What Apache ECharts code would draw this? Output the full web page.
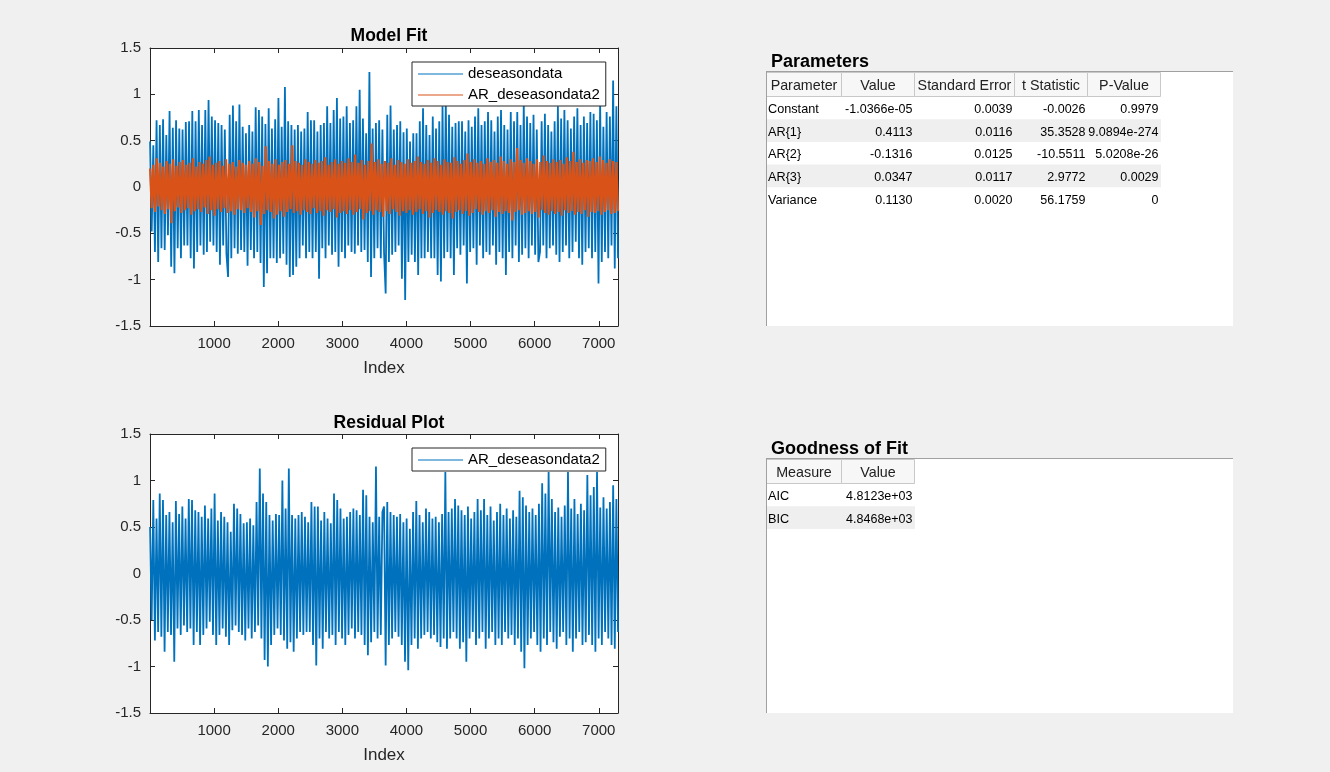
<!DOCTYPE html>
<html>
<head>
<meta charset="utf-8">
<script src="https://cdn.jsdelivr.net/npm/echarts@6/dist/echarts.min.js"></script>
<style>
html,body{margin:0;padding:0;background:#f0f0f0;}
#c{width:1330px;height:772px;}
</style>
</head>
<body>
<div id="c"></div>
<script>
// ---------------- data ----------------
const INDEX_MIN = 1;
const INDEX_MAX = 7300;
const xTicks = [1000, 2000, 3000, 4000, 5000, 6000, 7000];

// deseasondata: local upper extremes / lower extremes along the index
const deseasonUpper = [
0.49,0.45,0.72,0.67,0.73,0.56,0.82,0.64,0.72,0.63,0.62,0.70,0.71,0.82,0.71,0.83,0.67,0.83,0.94,0.76,
0.72,0.69,0.67,0.62,0.78,0.88,0.71,0.89,0.65,0.58,0.67,0.60,0.86,0.83,0.76,0.68,0.85,0.63,0.73,0.96,
0.65,1.08,0.71,0.67,0.62,0.67,
0.60,0.63,0.81,0.72,0.72,0.60,0.67,0.69,0.87,0.69,0.83,0.96,0.74,0.76,0.87,0.69,0.72,0.87,1.05,0.74,
0.58,1.24,0.63,0.69,0.72,0.62,0.78,0.88,0.62,0.67,0.71,0.59,0.63,0.49,0.58,0.58,0.71,0.85,0.67,0.56,
0.76,0.63,0.71,0.87,0.94,0.78,0.65,0.69,0.71,
0.71,0.60,0.72,0.65,0.76,0.85,0.67,0.71,0.81,0.72,0.60,0.76,0.83,0.67,0.62,0.81,0.71,0.81,0.67,0.90,
0.76,0.69,0.78,0.62,0.71,0.79,0.67,0.60,0.71,0.87,0.74,0.83,0.72,0.63,0.76,0.85,0.67,0.76,0.69,0.81,
0.79,0.72,0.92,0.65,0.81,0.76,1.15,0.87
];
const deseasonLower = [
-0.48,-0.70,-0.81,-0.66,-0.68,-0.52,-0.86,-0.93,-0.66,-0.77,-0.63,-0.63,-0.77,-0.88,-0.70,-0.63,-0.73,-0.70,-0.59,-0.63,
-0.70,-0.84,-0.63,-0.72,-0.97,-0.77,-0.66,-0.72,-0.68,-0.70,-0.85,-0.68,-0.77,-0.70,-0.82,-1.08,-0.93,-0.77,-0.77,-0.82,
-0.77,-0.72,-0.84,-0.97,-0.95,-0.86,-0.77,-0.63,-0.77,-0.70,
-0.77,-0.70,-0.99,-0.66,-0.77,-0.63,-0.73,-0.70,-0.86,-0.70,-0.77,-0.63,-0.70,-0.72,-0.63,-0.70,-0.68,-0.81,-0.97,-0.77,
-0.66,-0.77,-0.70,-1.15,-0.81,-0.73,-0.70,-0.63,-0.99,-1.22,-0.81,-0.73,-0.81,-0.95,-0.77,-0.77,-0.70,-0.77,-0.77,-0.95,
-1.02,-0.77,-0.70,-0.77,-0.95,-0.66,-0.73,-0.63,
-1.04,-0.70,-0.66,-0.84,-0.63,-0.77,-0.70,-0.73,-0.63,-0.84,-0.70,-0.77,-0.95,-0.70,-0.77,-0.63,-0.81,-0.73,-0.66,-0.77,
-0.63,-0.73,-0.81,-0.70,-0.63,-0.77,-0.66,-0.63,-0.73,-0.81,-0.70,-0.63,-0.77,-0.70,-0.59,-0.77,-0.84,-0.70,-0.66,-0.77,
-0.70,-1.04,-0.81,-0.70,-0.77,-0.63,-0.88,-0.77
];

// AR_deseasondata2 (fitted): upper / lower extremes
const fitUpper = [
0.20,0.24,0.31,0.26,0.22,0.28,0.25,0.30,0.23,0.27,0.29,0.24,0.26,0.31,0.22,0.27,0.25,0.29,0.33,0.24,
0.26,0.28,0.23,0.30,0.25,0.27,0.22,0.29,0.26,0.24,0.28,0.25,0.31,0.27,0.23,0.44,0.28,0.25,0.30,0.24,
0.27,0.29,0.25,0.45,0.28,0.26,0.24,0.30,0.27,0.25,0.29,0.26,0.28,0.32,0.24,0.27,0.30,0.25,0.28,0.26,
0.31,0.27,0.35,0.26,0.29,0.24,0.28,0.47,0.27,0.30,0.25,0.28,0.26,0.31,0.24,0.29,0.27,0.25,0.30,0.26,
0.28,0.33,0.27,0.25,0.29,0.26,0.31,0.28,0.24,0.30,0.27,0.26,0.32,0.28,0.25,0.29,0.36,0.27,0.30,0.26,
0.28,0.25,0.31,0.27,0.29,0.26,0.33,0.28,0.25,0.30,0.27,0.42,0.29,0.26,0.31,0.28,0.25,0.30,0.27,0.34,
0.28,0.26,0.30,0.27,0.29,0.25,0.32,0.28,0.38,0.27,0.30,0.26,0.29,0.28,0.31,0.27,0.33,0.29,0.26,0.30,
0.28,0.27
];
const fitLower = [
-0.23,-0.27,-0.21,-0.25,-0.29,-0.24,-0.39,-0.26,-0.22,-0.28,-0.25,-0.23,-0.30,-0.26,-0.24,-0.27,-0.22,-0.29,-0.25,-0.31,
-0.24,-0.27,-0.23,-0.28,-0.26,-0.30,-0.24,-0.25,-0.28,-0.23,-0.27,-0.33,-0.26,-0.41,-0.29,-0.25,-0.27,-0.34,-0.30,-0.26,
-0.32,-0.27,-0.24,-0.28,-0.26,-0.30,-0.25,-0.27,-0.29,-0.23,-0.28,-0.26,-0.31,-0.25,-0.27,-0.24,-0.33,-0.28,-0.26,-0.29,
-0.25,-0.30,-0.27,-0.24,-0.35,-0.28,-0.26,-0.30,-0.25,-0.27,-0.32,-0.26,-0.29,-0.24,-0.27,-0.31,-0.26,-0.28,-0.25,-0.30,
-0.27,-0.24,-0.29,-0.26,-0.33,-0.28,-0.25,-0.27,-0.30,-0.26,-0.28,-0.34,-0.27,-0.25,-0.29,-0.26,-0.31,-0.28,-0.24,-0.27,
-0.30,-0.26,-0.28,-0.25,-0.32,-0.27,-0.29,-0.26,-0.28,-0.36,-0.27,-0.25,-0.30,-0.28,-0.26,-0.29,-0.27,-0.33,-0.25,-0.28,
-0.30,-0.26,-0.29,-0.27,-0.31,-0.25,-0.28,-0.26,-0.30,-0.27,-0.29,-0.25,-0.32,-0.27,-0.28,-0.26,-0.30,-0.27,-0.25,-0.29,
-0.28,-0.26
];

// residuals: upper / lower extremes
const residUpper = [
0.50,0.79,0.59,0.86,0.79,0.63,0.66,0.55,0.78,0.64,0.72,0.59,0.80,0.79,0.68,0.66,0.61,0.73,0.59,0.70,
0.86,0.57,0.66,0.61,0.55,0.45,0.75,0.70,0.64,0.54,0.55,0.59,0.52,0.77,1.13,0.86,0.77,0.63,0.57,0.64,
0.63,1.00,0.70,1.13,0.63,0.59,0.63,0.66,
0.61,0.55,0.77,0.72,0.72,0.57,0.66,0.59,0.54,0.86,0.79,0.70,0.59,0.61,0.66,0.70,0.68,0.63,0.90,0.84,
0.61,0.55,1.15,0.61,0.66,0.72,0.77,0.66,0.63,0.61,0.64,0.55,0.59,0.48,0.66,0.78,0.63,0.55,0.70,0.66,
0.59,0.61,0.55,0.64,1.09,0.66,0.70,0.80,0.73,0.68,
0.63,0.72,0.59,0.66,0.80,0.68,0.80,0.63,0.72,0.57,0.66,0.75,0.63,0.70,0.59,0.68,0.61,0.89,0.82,0.73,
0.66,0.70,0.63,0.75,0.97,0.86,1.09,0.80,0.66,0.71,0.61,0.73,1.09,0.70,0.80,0.64,0.75,0.68,1.06,0.84,
0.93,1.09,0.71,0.82,0.70,0.77,0.95,0.80
];
const residLower = [
-0.50,-0.72,-0.63,-0.68,-0.84,-0.63,-0.66,-0.95,-0.59,-0.66,-0.56,-0.63,-0.59,-0.77,-0.63,-0.77,-0.66,-0.59,-0.52,-0.66,
-0.77,-0.66,-0.59,-0.68,-0.77,-0.61,-0.56,-0.63,-0.66,-0.72,-0.59,-0.70,-0.63,-0.56,-0.70,-0.93,-1.00,-0.77,-0.66,-0.59,
-0.66,-0.72,-0.81,-0.74,-0.84,-0.70,-0.63,-0.66,-0.63,
-0.63,-0.77,-0.99,-0.70,-0.81,-0.63,-0.70,-0.66,-0.77,-0.63,-0.70,-0.77,-0.66,-0.59,-0.70,-0.63,-0.66,-0.77,-0.88,-0.74,
-0.63,-0.70,-0.66,-0.99,-0.77,-0.70,-0.63,-0.68,-0.77,-0.95,-1.04,-0.77,-0.70,-0.81,-0.70,-0.66,-0.63,-0.70,-0.66,-0.74,
-0.79,-0.70,-0.81,-0.70,-0.63,-0.70,-0.81,-0.74,
-0.95,-0.70,-0.63,-0.77,-0.70,-0.63,-0.81,-0.70,-0.63,-0.77,-0.70,-0.77,-0.63,-0.70,-0.66,-0.77,-0.70,-0.84,-1.02,-0.77,
-0.70,-0.63,-0.77,-0.84,-0.70,-0.77,-0.63,-0.74,-0.81,-0.68,-0.63,-0.77,-0.70,-0.84,-0.70,-0.63,-0.77,-0.74,-0.66,-0.77,
-0.84,-0.70,-0.77,-0.63,-0.70,-0.77,-0.81,-0.63
];

// tables
const paramHeaders = ['Parameter', 'Value', 'Standard Error', 't Statistic', 'P-Value'];
const paramNames = ['Constant', 'AR{1}', 'AR{2}', 'AR{3}', 'Variance'];
const paramValue = ['-1.0366e-05', '0.4113', '-0.1316', '0.0347', '0.1130'];
const paramStdErr = ['0.0039', '0.0116', '0.0125', '0.0117', '0.0020'];
const paramTStat = ['-0.0026', '35.3528', '-10.5511', '2.9772', '56.1759'];
const paramPValue = ['0.9979', '9.0894e-274', '5.0208e-26', '0.0029', '0'];
const gofHeaders = ['Measure', 'Value'];
const gofNames = ['AIC', 'BIC'];
const gofValues = ['4.8123e+03', '4.8468e+03'];

// ---------------- build ----------------
// alternate the upper and lower extremes in reading order, evenly along the index
function band(up, lo) {
  const seq = [];
  let i = 0, j = 0;
  while (i < up.length || j < lo.length) {
    if (j >= lo.length || (i < up.length && (i + 0.25) / up.length <= (j + 0.75) / lo.length)) seq.push(up[i++]);
    else seq.push(lo[j++]);
  }
  const n = seq.length;
  return seq.map((v, k) => [INDEX_MIN + k * (INDEX_MAX - INDEX_MIN) / (n - 1), v]);
}

const FONT = '"Liberation Sans", Arial, Helvetica, sans-serif';
const AX = '#262626';
const BLUE = '#0072BD';
const ORANGE = '#D95319';

const G = [
  {left: 150, top: 48, width: 468, height: 278},
  {left: 150, top: 434, width: 468, height: 279}
];

function xAxes(gi) {
  return [
    {gridIndex: gi, type: 'value', min: 0, max: INDEX_MAX, interval: 1000, position: 'bottom',
     name: 'Index', nameLocation: 'middle', nameGap: 34,
     nameTextStyle: {fontFamily: FONT, fontSize: 17, color: AX},
     axisLine: {show: true, onZero: false, lineStyle: {color: AX, width: 1}},
     axisTick: {show: true, inside: true, length: 5, lineStyle: {color: AX}},
     axisLabel: {fontFamily: FONT, fontSize: 15, color: AX, margin: 10,
       formatter: v => (xTicks.indexOf(v) >= 0 ? String(v) : '')},
     splitLine: {show: false}},
    {gridIndex: gi, type: 'value', min: 0, max: INDEX_MAX, interval: 1000, position: 'top',
     axisLine: {show: true, onZero: false, lineStyle: {color: AX, width: 1}},
     axisTick: {show: true, inside: true, length: 5, lineStyle: {color: AX}},
     axisLabel: {show: false}, splitLine: {show: false}}
  ];
}
function yAxes(gi) {
  return [
    {gridIndex: gi, type: 'value', min: -1.5, max: 1.5, interval: 0.5, position: 'left',
     axisLine: {show: true, onZero: false, lineStyle: {color: AX, width: 1}},
     axisTick: {show: true, inside: true, length: 5, lineStyle: {color: AX}},
     axisLabel: {fontFamily: FONT, fontSize: 15, color: AX, margin: 9},
     splitLine: {show: false}},
    {gridIndex: gi, type: 'value', min: -1.5, max: 1.5, interval: 0.5, position: 'right',
     axisLine: {show: true, onZero: false, lineStyle: {color: AX, width: 1}},
     axisTick: {show: true, inside: true, length: 5, lineStyle: {color: AX}},
     axisLabel: {show: false}, splitLine: {show: false}}
  ];
}

// table graphics
const graphics = [];
function txt(x, y, s, align, opts) {
  graphics.push({type: 'text', x: x, y: y, silent: true, z: 10,
    style: Object.assign({text: s, textAlign: align, textVerticalAlign: 'middle',
      font: '12.7px ' + FONT, fill: '#000'}, opts || {})});
}
function rect(x, y, w, h, fill, stroke) {
  graphics.push({type: 'rect', silent: true, z: 5, shape: {x: x, y: y, width: w, height: h},
    style: {fill: fill, stroke: stroke || null, lineWidth: 1}});
}
function line(x1, y1, x2, y2, c) {
  graphics.push({type: 'line', silent: true, z: 8, shape: {x1: x1, y1: y1, x2: x2, y2: y2},
    style: {stroke: c, lineWidth: 1}});
}
function table(title, top, bottom, colEdges, headers, columns) {
  txt(771, top - 8.5, title, 'left', {font: 'bold 18px ' + FONT, fill: '#000'});
  rect(766, top, 467, bottom - top, '#ffffff');
  line(766, top + 0.5, 1233, top + 0.5, '#a0a0a0');
  line(766.5, top, 766.5, bottom, '#a0a0a0');
  const hTop = top + 1.5, hH = 24, rowH = 22.7;
  for (let c = 0; c < headers.length; c++) {
    const x0 = colEdges[c], x1 = colEdges[c + 1];
    rect(x0 + 0.5, hTop, x1 - x0, hH, '#f7f7f7', '#c8c8c8');
    txt((x0 + x1) / 2 + 0.5, hTop + hH / 2 + 1.5, headers[c], 'center', {font: '14.3px ' + FONT, fill: '#222'});
  }
  const nRows = columns[0].length;
  for (let r = 0; r < nRows; r++) {
    const y0 = hTop + hH + r * rowH;
    if (r % 2 === 1) rect(colEdges[0] + 1, y0, colEdges[colEdges.length - 1] - colEdges[0], rowH, '#efefef');
    for (let c = 0; c < columns.length; c++) {
      if (c === 0) txt(colEdges[0] + 2, y0 + rowH / 2 + 1.5, columns[c][r], 'left');
      else txt(colEdges[c + 1] - 1.5, y0 + rowH / 2 + 1.5, columns[c][r], 'right', {font: '12.5px ' + FONT});
    }
  }
}
table('Parameters', 71, 326, [766, 841, 914, 1014, 1087, 1160], paramHeaders,
      [paramNames, paramValue, paramStdErr, paramTStat, paramPValue]);
table('Goodness of Fit', 458, 713, [766, 841, 914], gofHeaders, [gofNames, gofValues]);

const legendBase = {
  orient: 'vertical', left: 412,
  backgroundColor: '#ffffff', borderColor: AX, borderWidth: 1, padding: [4, 6, 3, 6],
  icon: 'rect', itemWidth: 45, itemHeight: 1, itemGap: 5, selectedMode: false, z: 20,
  textStyle: {fontFamily: FONT, fontSize: 15, color: '#000', lineHeight: 16}
};

const chart = echarts.init(document.getElementById('c'), null, {renderer: 'canvas'});
chart.setOption({
  backgroundColor: '#f0f0f0',
  animation: false,
  title: [
    {text: 'Model Fit', left: 384, top: 22, textAlign: 'center',
     textStyle: {fontFamily: FONT, fontSize: 17.5, fontWeight: 'bold', color: '#000'}},
    {text: 'Residual Plot', left: 384, top: 409, textAlign: 'center',
     textStyle: {fontFamily: FONT, fontSize: 17.5, fontWeight: 'bold', color: '#000'}}
  ],
  grid: G.map(g => Object.assign({backgroundColor: '#ffffff', show: true, borderWidth: 0, containLabel: false}, g)),
  xAxis: xAxes(0).concat(xAxes(1)),
  yAxis: yAxes(0).concat(yAxes(1)),
  legend: [
    Object.assign({}, legendBase, {data: ['deseasondata', 'AR_deseasondata2'], top: 62}),
    Object.assign({}, legendBase, {data: ['AR_deseasondata2 '], top: 448, formatter: n => n.trim()})
  ],
  series: [
    {name: 'deseasondata', type: 'line', xAxisIndex: 0, yAxisIndex: 0, data: band(deseasonUpper, deseasonLower),
     showSymbol: false, symbol: 'none', sampling: null, color: BLUE, lineStyle: {color: BLUE, width: 1.8}, z: 2},
    {name: 'AR_deseasondata2', type: 'line', xAxisIndex: 0, yAxisIndex: 0, data: band(fitUpper, fitLower),
     showSymbol: false, symbol: 'none', sampling: null, color: ORANGE, lineStyle: {color: ORANGE, width: 2.2}, z: 3},
    {name: 'AR_deseasondata2 ', type: 'line', xAxisIndex: 2, yAxisIndex: 2, data: band(residUpper, residLower),
     showSymbol: false, symbol: 'none', sampling: null, color: BLUE, lineStyle: {color: BLUE, width: 1.8}, z: 2}
  ],
  graphic: graphics
});
</script>
</body>
</html>
